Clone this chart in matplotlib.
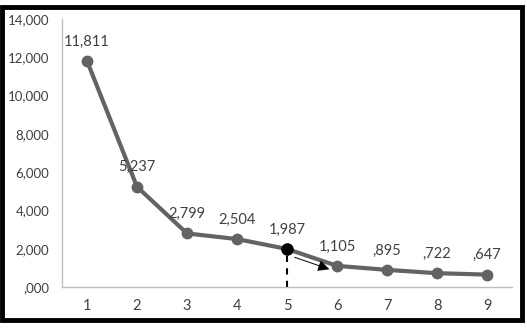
import matplotlib.pyplot as plt
from matplotlib.patches import Rectangle

# Data
categories = [1, 2, 3, 4, 5, 6, 7, 8, 9]
values = [11811, 5237, 2799, 2504, 1987, 1105, 895, 722, 647]
value_labels = ['11,811', '5,237', '2,799', '2,504', '1,987', '1,105', ',895', ',722', ',647']
y_ticks = [0, 2000, 4000, 6000, 8000, 10000, 12000, 14000]
y_tick_labels = [',000', '2,000', '4,000', '6,000', '8,000', '10,000', '12,000', '14,000']
highlight = 5

plt.rcParams['font.family'] = ['Lato', 'DejaVu Sans']

fig = plt.figure(figsize=(5.27, 3.28), dpi=100)
ax = fig.add_axes([62 / 527, 1 - 287 / 328, 450 / 527, 268 / 328])

ax.plot(categories, values, color='#636363', linewidth=3, marker='o',
        markersize=7.5, zorder=3)
hi = categories.index(highlight)
ax.plot([categories[hi]], [values[hi]], marker='o', color='black', markersize=8, zorder=4)

# dashed drop line from the chosen point
ax.plot([categories[hi], categories[hi]], [0, values[hi]], color='black',
        linestyle=(0, (3, 3)), linewidth=1.5, zorder=2)

# arrow toward the next point
ax.annotate('', xy=(5.9, 880), xytext=(5.1, 1600),
            arrowprops=dict(arrowstyle='-|>', color='black', lw=0.7,
                            mutation_scale=17))

for x, y, lab in zip(categories, values, value_labels):
    ax.annotate(lab, (x, y), xytext=(0, 14), textcoords='offset points',
                ha='center', va='center', fontsize=10.5, color='#404040')

ax.set_xlim(0.5, 9.5)
ax.set_ylim(0, 14000)
ax.set_xticks(categories)
ax.set_xticklabels([str(c) for c in categories])
ax.set_yticks(y_ticks)
ax.set_yticklabels(y_tick_labels)
ax.tick_params(length=0, labelsize=10.5, labelcolor='#404040')
ax.tick_params(axis='y', labelsize=9.5, pad=9)
ax.tick_params(axis='x', pad=9)

for s in ['top', 'right']:
    ax.spines[s].set_visible(False)
for s in ['left', 'bottom']:
    ax.spines[s].set_color('#bfbfbf')
    ax.spines[s].set_linewidth(1)

# black frame around the picture
fig.patches.append(Rectangle((2 / 527, 1 - 320 / 328), 520 / 527, 313 / 328,
                             transform=fig.transFigure, fill=False,
                             edgecolor='black', linewidth=3.5))

fig.savefig('out.png', dpi=100)
